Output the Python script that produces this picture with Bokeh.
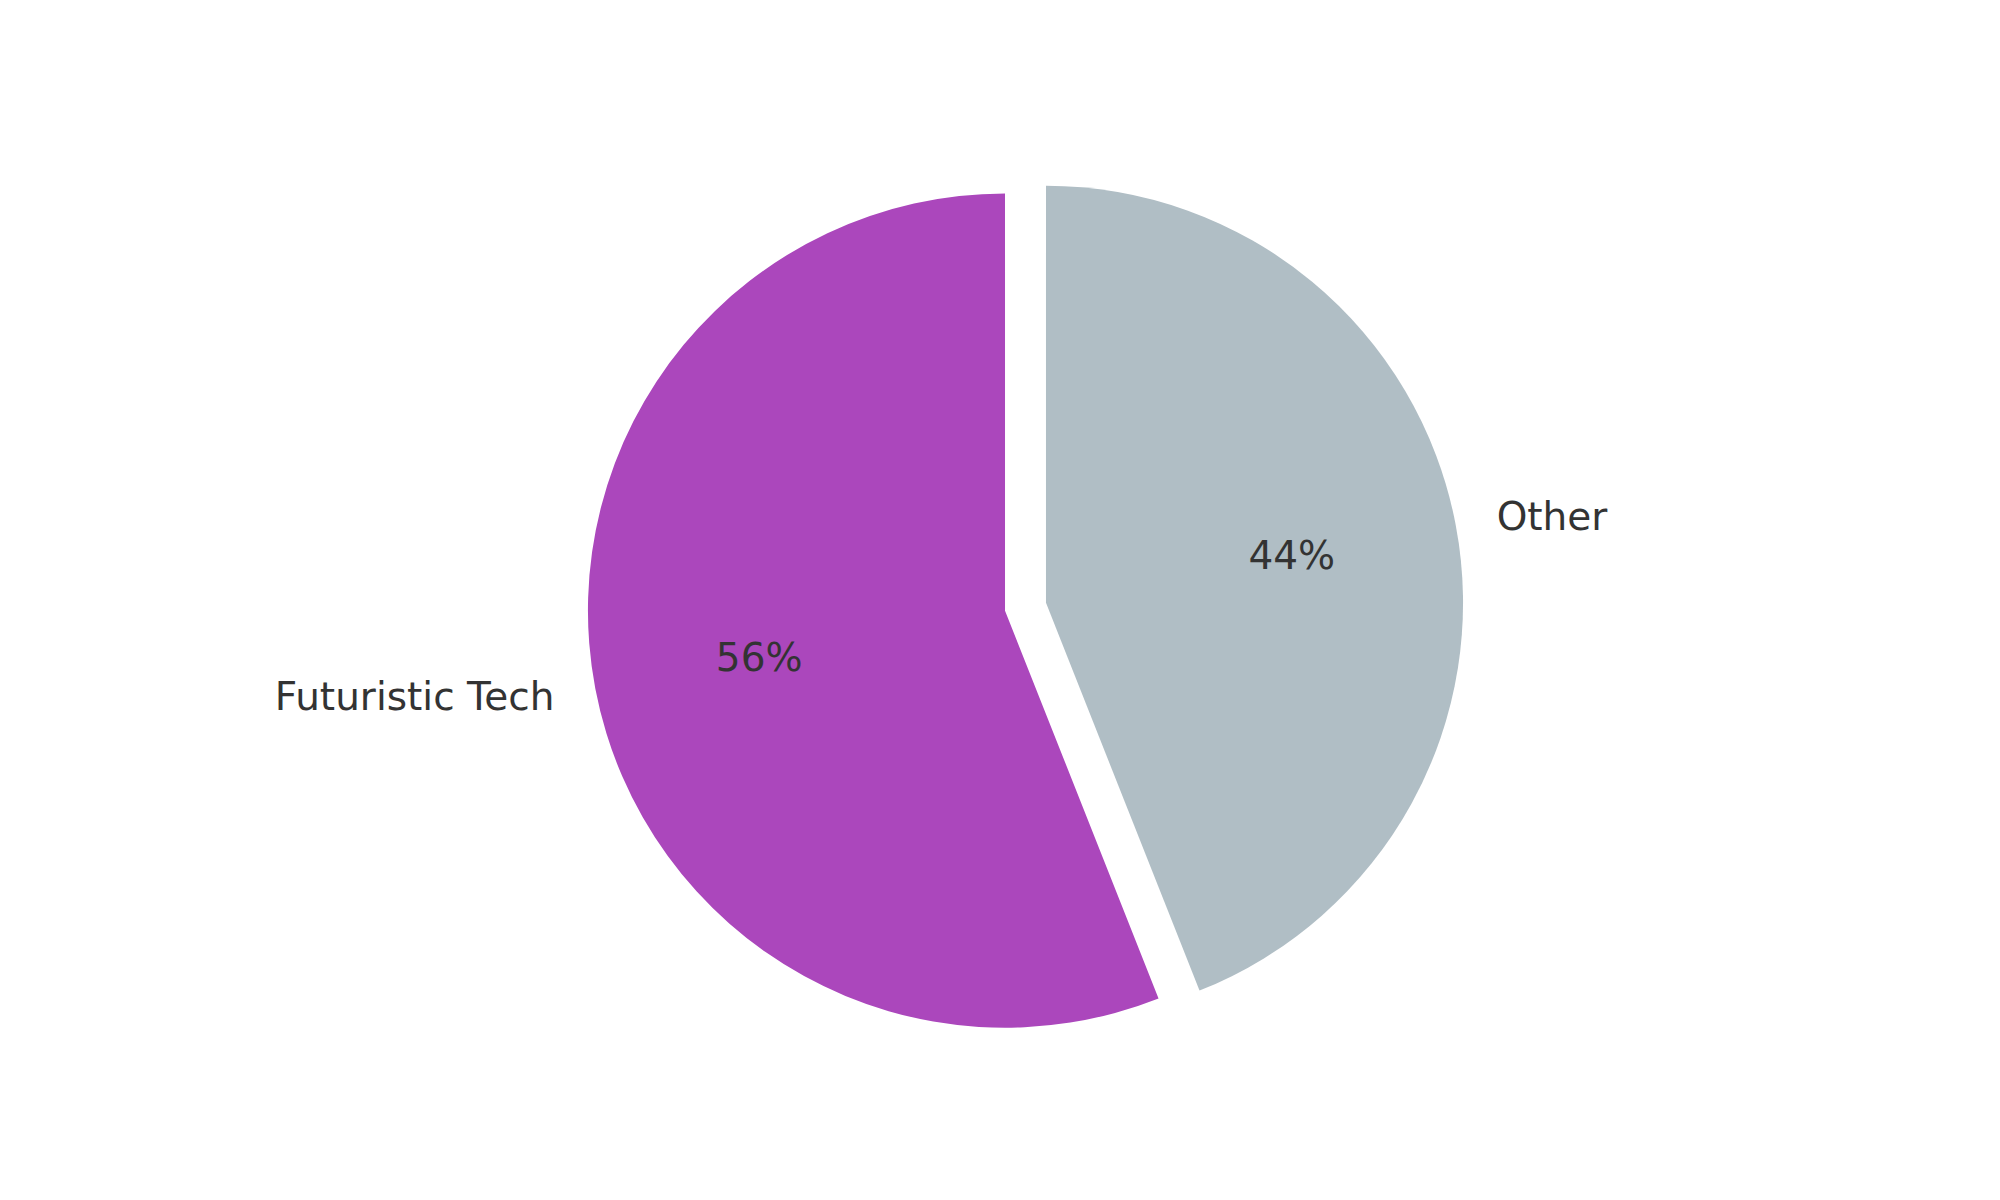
import math
from bokeh.plotting import figure
from bokeh.models import ColumnDataSource, Range1d
from bokeh.core.properties import value
from bokeh.embed import file_html
from bokeh.resources import INLINE

# Data
categories = ["Futuristic Tech", "Other"]
shares = [56, 44]
colors = ["#AB47BC", "#B0BEC5"]
explode = [0.0, 0.1]

START = 90.0
LABEL_DIST = 1.1
PCT_DIST = 0.6

total = float(sum(shares))
xs, ys, starts, ends = [], [], [], []
lab_x, lab_y, lab_align = [], [], []
pct_x, pct_y, pct_text = [], [], []
a = START
for cat, v, ex in zip(categories, shares, explode):
    span = 360.0 * v / total
    a0, a1 = a, a + span
    mid = math.radians((a0 + a1) / 2.0)
    cx, cy = ex * math.cos(mid), ex * math.sin(mid)
    xs.append(cx); ys.append(cy)
    starts.append(math.radians(a0)); ends.append(math.radians(a1))
    lx = cx + LABEL_DIST * math.cos(mid)
    ly = cy + LABEL_DIST * math.sin(mid)
    lab_x.append(lx); lab_y.append(ly)
    lab_align.append("right" if lx < 0 else "left")
    pct_x.append(cx + PCT_DIST * math.cos(mid))
    pct_y.append(cy + PCT_DIST * math.sin(mid))
    pct_text.append(f"{100.0 * v / total:.0f}%")
    a = a1

W, H = 1984, 1184
dx, dy = -0.0205, 0.0195
p = figure(width=W, height=H, output_backend="svg", toolbar_location=None,
           x_range=Range1d(-2.388 + dx, 2.369 + dx), y_range=Range1d(-1.396 + dy, 1.444 + dy),
           min_border=0)
p.axis.visible = False
p.grid.visible = False
p.outline_line_color = None
p.background_fill_color = "white"
p.border_fill_color = "white"

src = ColumnDataSource(dict(x=xs, y=ys, start=starts, end=ends, color=colors, cat=categories))
p.wedge(x="x", y="y", radius=1.0, start_angle="start", end_angle="end",
        direction="anticlock", fill_color="color", line_color=None, source=src)

lsrc = ColumnDataSource(dict(x=lab_x, y=lab_y, text=categories, align=lab_align))
p.text(x="x", y="y", text="text", text_align="align", text_baseline="middle",
       text_font=value("DejaVu Sans"), text_font_size="39px", text_color="#333333",
       source=lsrc)

psrc = ColumnDataSource(dict(x=pct_x, y=pct_y, text=pct_text))
p.text(x="x", y="y", text="text", text_align="center", text_baseline="middle",
       text_font=value("DejaVu Sans"), text_font_size="39px", text_color="#333333",
       source=psrc)

open("out.html", "w").write(file_html(p, INLINE))
